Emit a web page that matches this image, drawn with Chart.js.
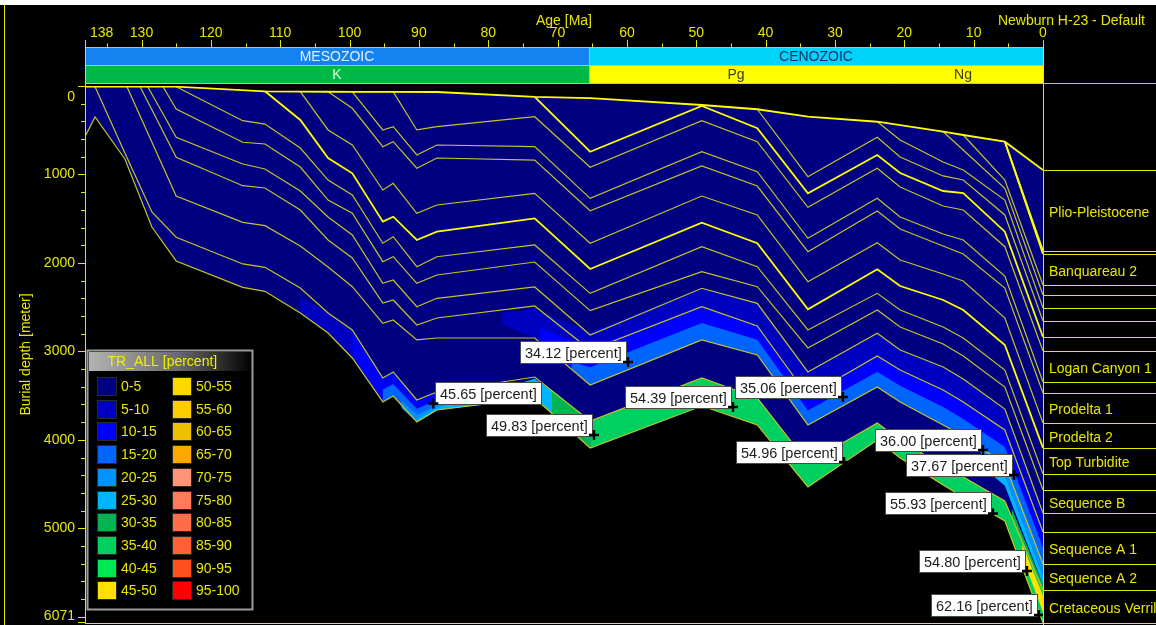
<!DOCTYPE html>
<html>
<head>
<meta charset="utf-8">
<title>Newburn H-23 - burial history, TR_ALL</title>
<script src="https://cdn.jsdelivr.net/npm/chart.js@4.4.1/dist/chart.umd.min.js"></script>
<style>
  html, body { margin: 0; padding: 0; background: #000; overflow: hidden; }
  canvas { display: block; }
</style>
</head>
<body>
<canvas id="burial" width="1156" height="625"></canvas>
<script>
// ---------------- values ----------------
const ageTicks = [138, 130, 120, 110, 100, 90, 80, 70, 60, 50, 40, 30, 20, 10, 0];
const depthTicks = [0, 1000, 2000, 3000, 4000, 5000, 6071];
const ageRange = [0, 138.15];
const depthRange = [0, 6071];

const eraNames = ['MESOZOIC', 'CENOZOIC'];
const eraAges = [[251, 65.5], [65.5, 0]];
const periodNames = ['K', 'Pg', 'Ng'];
const periodAges = [[145.5, 65.5], [65.5, 23.03], [23.03, 0]];

const trClasses = ['0-5', '5-10', '10-15', '15-20', '20-25', '25-30', '30-35', '35-40', '40-45', '45-50',
                   '50-55', '55-60', '60-65', '65-70', '70-75', '75-80', '80-85', '85-90', '90-95', '95-100'];

// horizons: [age Ma, burial depth m], youngest first
const seaFloor = [[138.1, 8], [125.0, 8], [112.2, 60], [107.1, 64], [103.1, 65], [99.6, 66], [93.7, 67], [87.4, 68],
  [73.3, 124], [65.3, 136], [49.2, 215], [41.2, 263], [33.9, 347], [23.9, 404], [14.4, 517], [11.5, 554], [5.5, 630], [0, 950]];
const hP = [[5.5, 630], [0, 1865]];
const hQ = [[5.5, 630], [0, 1899]];
const hO = [[11.5, 554], [5.5, 1063], [0, 2250]];
const hN = [[14.4, 517], [11.5, 724], [5.5, 1156], [0, 2363]];
const hM2 = [[23.9, 404], [20.6, 610], [14.4, 859], [11.5, 950], [5.5, 1289], [0, 2510]];
const hM = [[41.2, 263], [33.9, 1025], [23.9, 580], [20.6, 803], [14.4, 1017], [11.5, 1063], [5.5, 1458], [0, 2657]];
const hX = [[73.3, 124], [65.3, 743], [49.2, 226], [41.2, 478], [33.9, 1213], [23.9, 780], [20.6, 984], [14.4, 1187],
  [11.5, 1210], [5.5, 1647], [0, 2838]];
const hK = [[93.7, 67], [90.3, 497], [87.4, 460], [73.3, 347], [65.3, 919], [49.2, 392], [41.2, 630], [33.9, 1371],
  [23.9, 930], [20.6, 1142], [14.4, 1357], [11.5, 1402], [5.5, 1817], [0, 2996]];
const hJ = [[99.6, 66], [95.2, 497], [93.7, 460], [90.3, 780], [87.4, 667], [73.3, 686], [65.3, 1270], [49.2, 743],
  [41.2, 969], [33.9, 1722], [23.9, 1270], [20.6, 1481], [14.4, 1673], [11.5, 1741], [5.5, 2148], [0, 3346]];
const hI = [[103.1, 65], [99.6, 252], [95.2, 686], [93.7, 630], [90.3, 930], [87.4, 814], [73.3, 837], [65.3, 1410],
  [49.2, 904], [41.2, 1131], [33.9, 1873], [23.9, 1413], [20.6, 1617], [14.4, 1809], [11.5, 1899], [5.5, 2284], [0, 3471]];
const hH = [[107.1, 64], [103.1, 497], [99.6, 667], [95.2, 1176], [93.7, 1100], [90.3, 1439], [87.4, 1345], [73.3, 1213],
  [65.3, 1778], [49.2, 1244], [41.2, 1458], [33.9, 2212], [23.9, 1771], [20.6, 1967], [14.4, 2125], [11.5, 2204], [5.5, 2623], [0, 3810]];
const hG = [[112.2, 60], [107.1, 384], [103.1, 814], [99.6, 987], [95.2, 1534], [93.7, 1478], [90.3, 1741], [87.4, 1647],
  [73.3, 1496], [65.3, 2069], [49.2, 1545], [41.2, 1778], [33.9, 2524], [23.9, 2072], [20.6, 2261], [14.4, 2419],
  [11.5, 2532], [5.5, 2928], [0, 4092]];
const hF = [[125.0, 8], [115.4, 392], [112.2, 430], [107.1, 701], [103.1, 1063], [99.6, 1232], [95.2, 1778], [93.7, 1704],
  [90.3, 2043], [87.4, 1930], [73.3, 1797], [65.3, 2344], [49.2, 1817], [41.2, 2043], [33.9, 2758], [23.9, 2344],
  [20.6, 2532], [14.4, 2725], [11.5, 2849], [5.5, 3211], [0, 4386]];
const hE = [[126.9, 8], [125.0, 260], [115.4, 636], [112.2, 656], [107.1, 916], [103.1, 1289], [99.6, 1439], [95.2, 1986],
  [93.7, 1930], [90.3, 2231], [87.4, 2137], [73.3, 1990], [65.3, 2540], [49.2, 2099], [41.2, 2269], [33.9, 2962],
  [23.9, 2532], [20.6, 2725], [14.4, 2917], [11.5, 3052], [5.5, 3403], [0, 4567]];
const hD = [[129.1, 8], [125.0, 580], [115.4, 882], [112.2, 938], [107.1, 1187], [103.1, 1481], [99.6, 1684], [95.2, 2231],
  [93.7, 2193], [90.3, 2495], [87.4, 2400], [73.3, 2272], [65.3, 2815], [49.2, 2287], [41.2, 2457], [33.9, 3233],
  [23.9, 2796], [20.6, 2985], [14.4, 3177], [11.5, 3312], [5.5, 3652], [0, 4827]];
const hC = [[130.2, 8], [125.0, 806], [115.4, 1127], [112.2, 1153], [107.1, 1402], [103.1, 1741], [99.6, 1944], [95.2, 2453],
  [93.7, 2419], [90.3, 2702], [87.4, 2623], [73.3, 2487], [65.3, 2985], [49.2, 2495], [41.2, 2713], [33.9, 3505],
  [23.9, 3052], [20.6, 3211], [14.4, 3437], [11.5, 3572], [5.5, 3889], [0, 5042]];
const hB = [[132.1, 8], [125.0, 1244], [115.4, 1541], [112.2, 1579], [107.1, 1809], [103.1, 2046], [99.6, 2269], [95.2, 2683],
  [93.7, 2645], [90.3, 2871], [87.4, 2849], [73.3, 2849], [65.3, 3380], [49.2, 2871], [41.2, 3041], [33.9, 3832],
  [23.9, 3403], [20.6, 3572], [14.4, 3832], [11.5, 3957], [5.5, 4273], [0, 5403]];
const hA = [[136.7, 8], [132.4, 757], [128.5, 1424], [125.0, 1710], [115.4, 2012], [112.2, 2050], [107.1, 2284], [103.1, 2566],
  [99.6, 2758], [95.2, 3301], [93.7, 3233], [90.3, 3550], [87.4, 3459], [73.3, 3290], [65.3, 3787], [49.2, 3301],
  [41.2, 3527], [33.9, 4262], [23.9, 3810], [20.6, 4002], [14.4, 4296], [11.5, 4420], [5.5, 4692], [0, 5699]];
const basement = [[138.1, 565], [136.7, 350], [132.4, 825], [128.5, 1594], [125.0, 1978], [115.4, 2276], [112.2, 2321],
  [107.1, 2566], [103.1, 2792], [99.6, 3075], [95.2, 3572], [93.7, 3505], [90.3, 3798], [87.4, 3663], [73.3, 3527],
  [65.3, 4092], [49.2, 3618], [41.2, 3832], [33.9, 4533], [23.9, 4002], [20.6, 4205], [14.4, 4511], [11.5, 4646],
  [5.5, 4918], [0, 6071]];

// formation between consecutive horizons (present-day column)
const formationNames = ['Plio-Pleistocene', '', 'Banquareau 2', '', '', '', '', '', 'Logan Canyon 1', '', 'Prodelta 1',
  'Prodelta 2', 'Top Turbidite', '', 'Sequence B', '', 'Sequence A 1', 'Sequence A 2', 'Cretaceous Verrill Canyon'];

// transformation-ratio zones: closed outlines [age, depth]
const trEarly5 = [[107.1, 2380], [103.1, 2566], [99.6, 2758], [99.6, 3075], [103.1, 2792], [107.1, 2566]];
const trEarly10 = [[99.6, 2758], [95.2, 3301], [93.7, 3233], [90.3, 3550], [87.4, 3459], [87.4, 3663], [90.3, 3798],
  [93.7, 3505], [95.2, 3572], [99.6, 3075]];
const trEarly15 = [[95.2, 3430], [93.7, 3370], [90.3, 3650], [87.4, 3550], [82, 3480], [82, 3612], [87.4, 3663],
  [90.3, 3798], [93.7, 3505], [95.2, 3572]];
const trEarly20 = [[92.5, 3560], [90.3, 3720], [87.4, 3610], [78, 3470], [78, 3573], [87.4, 3663], [90.3, 3798], [92.5, 3640]];
const trEarly25 = [[90.3, 3770], [87.4, 3640], [73.3, 3310], [70, 3489], [70, 3753], [73.3, 3527], [87.4, 3663], [90.3, 3798]];
const trEarly30 = [[70.8, 3444], [65.3, 3787], [65.3, 4092], [70.8, 3702]];
const trUpper5 = [[78, 2560], [73.3, 2530], [65.3, 2780], [49.2, 2287], [41.2, 2457], [33.9, 3233], [23.9, 2796],
  [20.6, 2985], [14.4, 3177], [11.5, 3312], [5.5, 3652], [0, 4827], [0, 5403], [5.5, 4273], [11.5, 3957], [14.4, 3832],
  [20.6, 3572], [23.9, 3403], [33.9, 3832], [41.2, 3041], [49.2, 2871], [65.3, 3380], [73.3, 2849], [78, 2700]];
const trUpper10 = [[72.5, 2740], [65.3, 2960], [49.2, 2495], [41.2, 2713], [33.9, 3505], [23.9, 3052], [20.6, 3211],
  [14.4, 3437], [11.5, 3572], [5.5, 3889], [0, 5042], [0, 5403], [5.5, 4273], [11.5, 3957], [14.4, 3832], [20.6, 3572],
  [23.9, 3403], [33.9, 3832], [41.2, 3041], [49.2, 2871], [65.3, 3380], [72.5, 2897]];
const trUpper15 = [[68, 3120], [65.3, 3180], [49.2, 2680], [41.2, 2870], [33.9, 3670], [23.9, 3230], [20.6, 3390],
  [14.4, 3630], [11.5, 3765], [5.5, 4080], [0, 5220], [0, 5403], [5.5, 4273], [11.5, 3957], [14.4, 3832], [20.6, 3572],
  [23.9, 3403], [33.9, 3832], [41.2, 3041], [49.2, 2871], [65.3, 3380], [68, 3197]];
const trDeep20 = [[9, 4089], [5.5, 4273], [0, 5403], [0, 5530], [5.5, 4400], [9, 4150]];
const trDeep25 = [[7, 4320], [5.5, 4400], [0, 5530], [0, 5640], [5.5, 4520], [7, 4420]];
const trDeep30 = [[4.5, 4780], [0, 5640], [0, 5699], [4.5, 4872]];
const trBase35 = [[65.3, 3787], [49.2, 3301], [41.2, 3527], [33.9, 4262], [23.9, 3810], [20.6, 4002], [14.4, 4296],
  [11.5, 4420], [5.5, 4692], [0, 5699], [0, 6071], [5.5, 4918], [11.5, 4646], [14.4, 4511], [20.6, 4205], [23.9, 4002],
  [33.9, 4533], [41.2, 3832], [49.2, 3618], [65.3, 4092]];
const trBase45 = [[3.0, 5180], [0, 5760], [0, 5950], [3.0, 5320]];
// [outline, TR class index]
const trZones = [[trEarly5, 1], [trEarly10, 2], [trEarly15, 3], [trEarly20, 4], [trEarly25, 5], [trEarly30, 6],
  [trUpper5, 1], [trUpper10, 2], [trUpper15, 3], [trDeep20, 4], [trDeep25, 5], [trDeep30, 6], [trBase35, 7], [trBase45, 9]];

// picked TR values
const pickAges = [59.84, 87.92, 64.75, 44.70, 28.84, 28.70, 8.65, 4.18, 7.21, 2.31, 0.58];
const pickDepths = [3120, 3589, 3945, 3629, 3516, 4251, 4115, 4398, 4833, 5483, 5980];
const pickValues = [34.12, 45.65, 49.83, 54.39, 35.06, 54.96, 36.00, 37.67, 55.93, 54.80, 62.16];

// ---------------- styles ----------------
const W = 1156, H = 625;
const FONT = '"Liberation Sans", Arial, Helvetica, sans-serif';
const YEL = '#e6e600';
const TXT = '#e6e600';
const trColors = ['#000080', '#0000c0', '#0000ff', '#0064ff', '#0092ff', '#00b4ff', '#00b450', '#00d060', '#00e850', '#ffe000',
  '#ffd800', '#ffcc00', '#f0c000', '#ffa800', '#ff9478', '#ff7c58', '#ff6c48', '#ff6038', '#ff5020', '#ff0000'];
const eraFill = ['#1482f0', '#00d4fa'];
const eraInk = ['#e4eeff', '#163064'];
const periodFill = ['#00b848', '#ffff00', '#ffff00'];
const periodInk = ['#e0ffe0', '#3c3c10', '#3c3c10'];
const pickSide = ['left', 'right', 'left', 'left', 'left', 'left', 'left', 'left', 'left', 'left', 'left'];

const horizonStack = [seaFloor, hP, hQ, hO, hN, hM2, hM, hX, hK, hJ, hI, hH, hG, hF, hE, hD, hC, hB, hA, basement];
const boldHorizons = [seaFloor, hP, hQ, hX, hG];

const pts = arr => arr.map(([x, y]) => ({ x, y }));
const datasets = [];

// sediment column
datasets.push({
  data: pts([...seaFloor, ...basement.slice().reverse()]),
  fill: 'shape', backgroundColor: trColors[0], borderColor: 'rgba(0,0,0,0)', borderWidth: 0, pointRadius: 0
});
// TR zones
trZones.forEach(([ring, cls]) => datasets.push({
  data: pts(ring), fill: 'shape', backgroundColor: trColors[cls], borderColor: 'rgba(0,0,0,0)', borderWidth: 0, pointRadius: 0
}));
// horizon lines, thin ones first
horizonStack.filter(h => !boldHorizons.includes(h)).forEach(h => datasets.push({
  data: pts(h), fill: false, borderColor: '#c4c428', borderWidth: 1.2, pointRadius: 0
}));
boldHorizons.forEach(h => datasets.push({
  data: pts(h), fill: false, borderColor: '#ffff00', borderWidth: 1.8, pointRadius: 0
}));
// picks
datasets.push({
  picks: true,
  data: pickAges.map((a, i) => ({ x: a, y: pickDepths[i] })),
  showLine: false, pointStyle: 'cross', pointRadius: 5, pointBorderColor: '#000', pointBorderWidth: 2.4,
  pointBackgroundColor: '#000', clip: 10
});
datasets.forEach((d, i) => { d.order = 1000 - i; d.tension = 0; });

function seg(c, x0, y0, x1, y1) { c.beginPath(); c.moveTo(x0, y0); c.lineTo(x1, y1); c.stroke(); }

const decor = {
  id: 'decor',
  beforeDraw(chart) {
    const c = chart.ctx;
    c.save();
    c.fillStyle = '#000'; c.fillRect(0, 0, W, H);
    c.fillStyle = '#fff'; c.fillRect(0, 0, W, 5);
    c.restore();
  },
  beforeDatasetDraw(chart, args) {
    const ds = chart.data.datasets[args.index];
    if (!ds.picks) return;
    const c = chart.ctx;
    c.save();
    c.font = '14.5px ' + FONT;
    c.textBaseline = 'middle';
    c.textAlign = 'left';
    args.meta.data.forEach((p, i) => {
      const txt = pickValues[i].toFixed(2) + ' [percent]';
      const w = Math.round(c.measureText(txt).width + 10), h = 23;
      const bx = pickSide[i] === 'right' ? Math.round(p.x) + 2 : Math.round(p.x) - 1 - w;
      const by = Math.round(p.y) + 2 - h;
      c.fillStyle = '#ffffff'; c.fillRect(bx, by, w, h);
      c.strokeStyle = '#4a4a4a'; c.lineWidth = 1; c.strokeRect(bx + 0.5, by + 0.5, w - 1, h - 1);
      c.fillStyle = '#1c1c1c'; c.fillText(txt, bx + 5, by + h / 2 + 1);
    });
    c.restore();
  },
  afterDraw(chart) {
    const c = chart.ctx, xs = chart.scales.x, ys = chart.scales.y, area = chart.chartArea;
    const X = v => xs.getPixelForValue(v), Y = v => ys.getPixelForValue(v);
    const cx = v => Math.round(Math.max(area.left, Math.min(area.right, X(v))));
    c.save();
    c.font = '14px ' + FONT;
    c.textBaseline = 'middle';
    c.lineWidth = 1;

    // left frame
    c.strokeStyle = YEL;
    seg(c, 4.5, 5, 4.5, H);

    // geological time bands
    const b0 = 47.5, b1 = 65.5, b2 = 83.5;
    eraNames.forEach((n, i) => {
      const x0 = cx(eraAges[i][0]), x1 = cx(eraAges[i][1]);
      c.fillStyle = eraFill[i]; c.fillRect(x0, b0, x1 - x0, b1 - b0);
      c.fillStyle = eraInk[i]; c.textAlign = 'center'; c.fillText(n, (x0 + x1) / 2, (b0 + b1) / 2 + 1);
    });
    periodNames.forEach((n, i) => {
      const x0 = cx(periodAges[i][0]), x1 = cx(periodAges[i][1]);
      c.fillStyle = periodFill[i]; c.fillRect(x0, b1, x1 - x0, b2 - b1);
      c.fillStyle = periodInk[i]; c.textAlign = 'center'; c.fillText(n, (x0 + x1) / 2, (b1 + b2) / 2 + 1);
    });
    c.strokeStyle = '#d2d200';
    seg(c, area.left, b0, area.right, b0);
    seg(c, area.left, b1, area.right, b1);
    seg(c, area.left, b2, W, b2);
    eraAges.forEach(([f]) => { if (f < ageRange[1]) { const x = cx(f) + 0.5; seg(c, x, b0, x, b2); } });

    // age axis
    c.strokeStyle = YEL;
    for (let v = 135; v >= 0; v -= 5) {
      const x = Math.round(X(v)) + 0.5;
      seg(c, x, v % 10 === 0 ? 40 : 43.5, x, b0);
    }
    seg(c, area.left + 0.5, 40, area.left + 0.5, area.bottom);
    seg(c, area.right + 0.5, 40, area.right + 0.5, H);
    c.fillStyle = TXT;
    ageTicks.forEach((v, i) => {
      if (i === 0) { c.textAlign = 'left'; c.fillText(String(v), X(v) + 4, 33); }
      else { c.textAlign = 'center'; c.fillText(String(v), X(v), 33); }
    });
    c.textAlign = 'center';
    c.fillText('Age [Ma]', (area.left + area.right) / 2, 21);
    c.textAlign = 'right';
    c.fillText('Newburn H-23 - Default', W - 11, 21);

    // depth axis
    for (let d = 0; d <= depthRange[1]; d += 200) {
      const y = Math.round(Y(d)) + 0.5;
      seg(c, d % 1000 === 0 ? 78 : 81, y, area.left, y);
    }
    seg(c, 78, Math.round(Y(depthRange[1])) - 0.5, area.left, Math.round(Y(depthRange[1])) - 0.5);
    seg(c, area.left, area.bottom + 0.5, area.right, area.bottom + 0.5);
    c.textAlign = 'right';
    depthTicks.forEach(d => c.fillText(String(d), 75, Math.min(Math.max(Y(d), 97), 616)));
    c.save();
    c.translate(26, (area.top + area.bottom) / 2);
    c.rotate(-Math.PI / 2);
    c.textAlign = 'center';
    c.fillText('Burial depth [meter]', 0, 0);
    c.restore();

    // present-day formation column
    const presentY = horizonStack.map(h => Y(h[h.length - 1][1]));
    c.strokeStyle = YEL;
    presentY.forEach(y => seg(c, area.right, Math.round(y) + 0.5, W, Math.round(y) + 0.5));
    c.textAlign = 'left';
    c.fillStyle = TXT;
    formationNames.forEach((n, i) => {
      if (n) c.fillText(n, area.right + 6, (presentY[i] + presentY[i + 1]) / 2 + 2.5);
    });

    // legend
    const lx = 87.5, ly = 350.5, lw = 165, lh = 259;
    c.fillStyle = '#000'; c.fillRect(lx, ly, lw, lh);
    const g = c.createLinearGradient(lx, 0, lx + lw, 0);
    g.addColorStop(0, '#b4b4b4'); g.addColorStop(0.55, '#6a6a6a'); g.addColorStop(1, '#000');
    c.fillStyle = g; c.fillRect(lx + 1.5, ly + 1.5, lw - 3, 19);
    c.strokeStyle = '#9c9c9c'; c.lineWidth = 2; c.strokeRect(lx, ly, lw, lh);
    c.lineWidth = 1;
    c.fillStyle = '#f0f000'; c.textAlign = 'left';
    c.fillText('TR_ALL [percent]', lx + 20, ly + 11.5);
    trClasses.forEach((t, i) => {
      const col = Math.floor(i / 10), row = i % 10;
      const sx = 97 + col * 75, sy = 377 + row * 22.7;
      c.fillStyle = trColors[i]; c.fillRect(sx, Math.round(sy), 20, 19);
      c.strokeStyle = '#2a2a2a'; c.strokeRect(sx + 0.5, Math.round(sy) + 0.5, 19, 18);
      c.fillStyle = TXT; c.fillText(t, sx + 24, Math.round(sy) + 10);
    });
    c.restore();
  }
};

new Chart(document.getElementById('burial'), {
  type: 'line',
  data: { datasets },
  options: {
    animation: false,
    responsive: false,
    devicePixelRatio: 1,
    layout: { autoPadding: false, padding: { left: 85, right: 113, top: 86, bottom: 2 } },
    scales: {
      x: { type: 'linear', min: ageRange[0], max: ageRange[1], reverse: true, display: false },
      y: { type: 'linear', min: depthRange[0], max: depthRange[1], reverse: true, display: false }
    },
    plugins: { legend: { display: false }, tooltip: { enabled: false } },
    elements: { point: { radius: 0 }, line: { tension: 0 } }
  },
  plugins: [decor]
});
</script>
</body>
</html>
